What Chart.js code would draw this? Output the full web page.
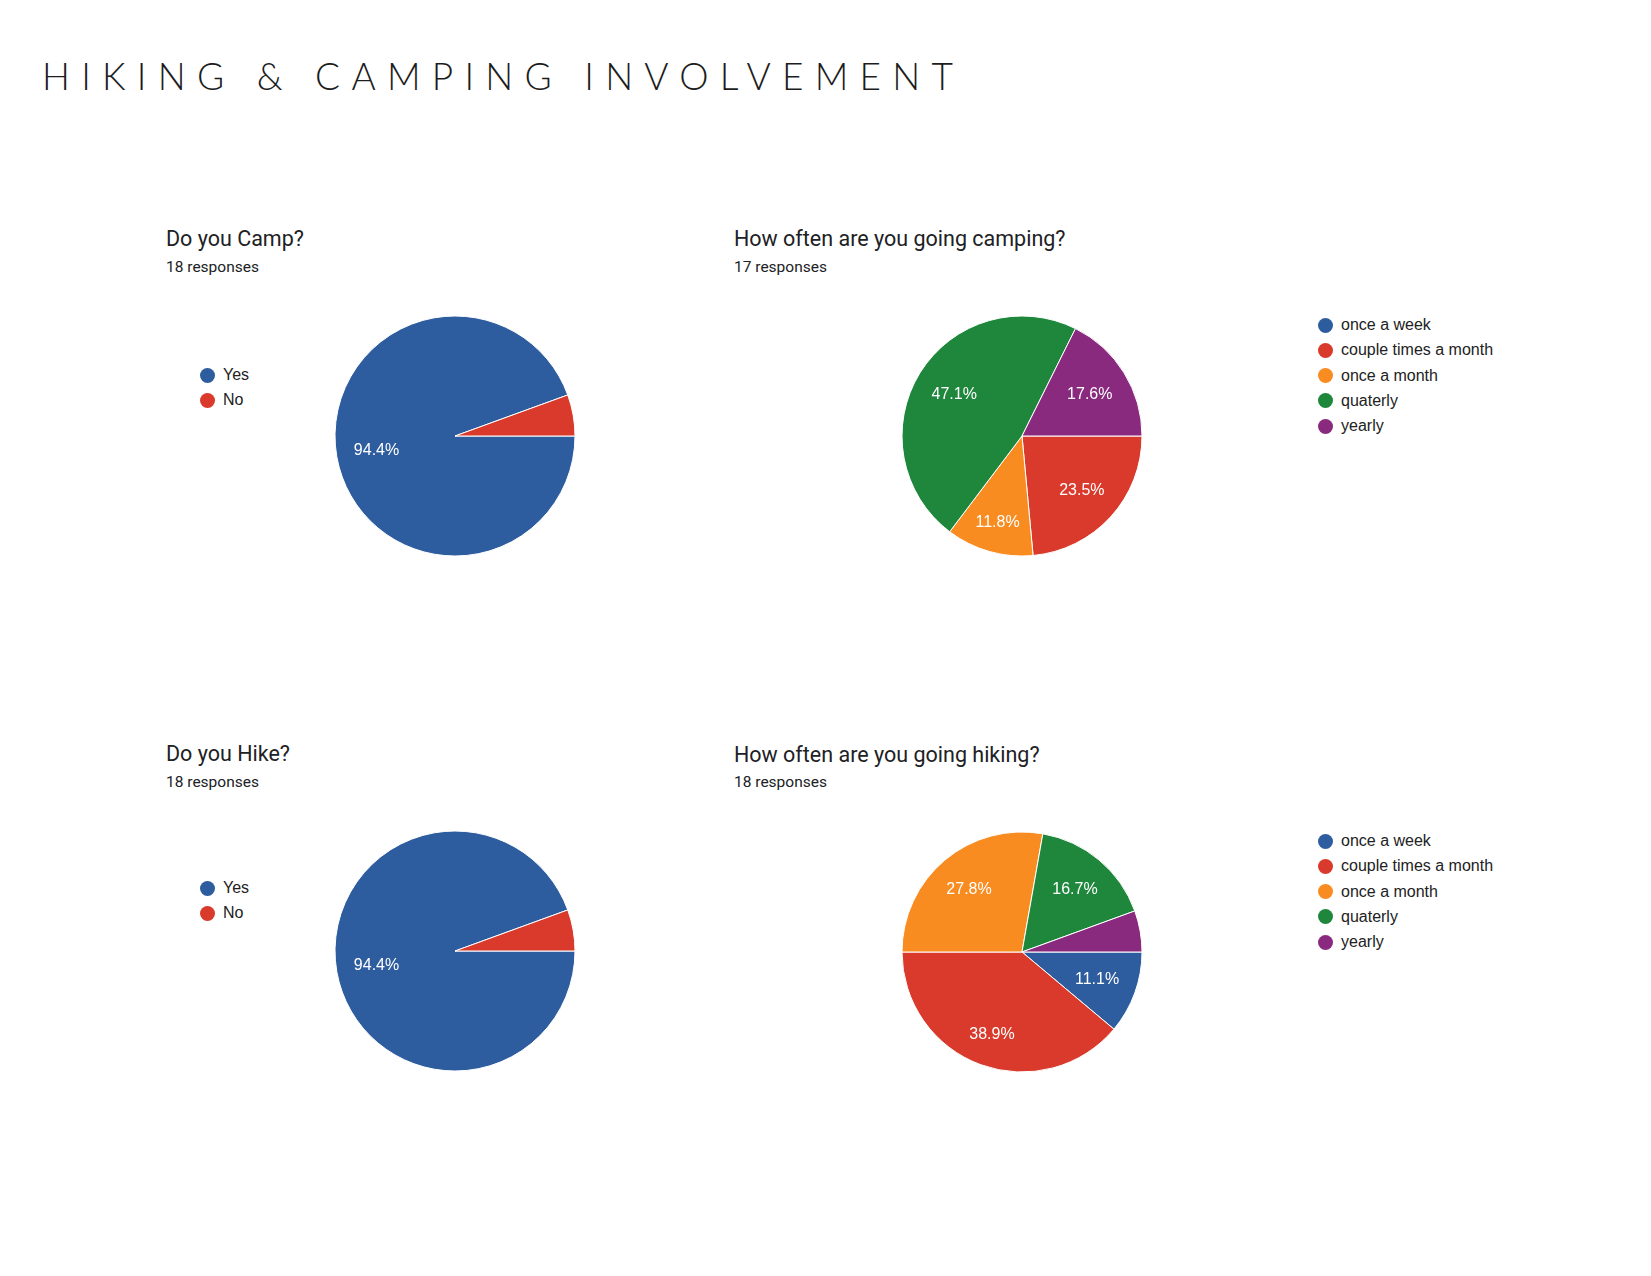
<!DOCTYPE html>
<html>
<head>
<meta charset="utf-8">
<script src="https://cdn.jsdelivr.net/npm/chart.js@4.4.0/dist/chart.umd.min.js"></script>
<style>
  html, body { margin:0; padding:0; background:#fff; }
  body { width:1651px; height:1276px; position:relative; overflow:hidden; }
  #mainTitle { position:absolute; left:42px; top:56.5px; font-family:Lato, sans-serif; font-weight:300; font-size:37px; line-height:37px; color:#1c1c1c; white-space:nowrap; }
  .qtitle { position:absolute; font-family:Roboto, sans-serif; font-size:21.5px; line-height:24px; color:#202124; white-space:nowrap; }
  .qsub { position:absolute; font-family:Roboto, sans-serif; font-size:15.5px; line-height:18px; color:#202124; white-space:nowrap; }
  .legend { position:absolute; font-family:"Liberation Sans", Arial, sans-serif; font-size:16px; color:#222; }
  .legend .item { position:relative; height:25.3px; line-height:20px; white-space:nowrap; }
  .legend .dot { position:absolute; left:0; top:0; width:15px; height:15px; border-radius:50%; margin-top:2.5px; }
  .legend .txt { position:absolute; left:23px; top:0; }
  canvas.pie { position:absolute; }
</style>
</head>
<body>
<div id="mainTitle">HIKING &amp; CAMPING INVOLVEMENT</div>

<div class="qtitle" style="left:166px; top:227px;">Do you Camp?</div>
<div class="qsub" style="left:166px; top:258px;">18 responses</div>
<div class="qtitle" style="left:734px; top:227px;">How often are you going camping?</div>
<div class="qsub" style="left:734px; top:258px;">17 responses</div>
<div class="qtitle" style="left:166px; top:742px;">Do you Hike?</div>
<div class="qsub" style="left:166px; top:773px;">18 responses</div>
<div class="qtitle" style="left:734px; top:743px;">How often are you going hiking?</div>
<div class="qsub" style="left:734px; top:773px;">18 responses</div>

<canvas class="pie" id="c1" width="260" height="260" style="left:325px; top:306px;"></canvas>
<canvas class="pie" id="c2" width="260" height="260" style="left:892px; top:306px;"></canvas>
<canvas class="pie" id="c3" width="260" height="260" style="left:325px; top:821px;"></canvas>
<canvas class="pie" id="c4" width="260" height="260" style="left:892px; top:822px;"></canvas>

<div class="legend" id="l1" style="left:200px; top:365px;"></div>
<div class="legend" id="l2" style="left:1318px; top:315px;"></div>
<div class="legend" id="l3" style="left:200px; top:878px;"></div>
<div class="legend" id="l4" style="left:1318px; top:831px;"></div>

<script>
// ---- Data ----
const yesNoCategories = ['Yes', 'No'];
const campValues = [17, 1];
const hikeValues = [17, 1];

const frequencyCategories = ['once a week', 'couple times a month', 'once a month', 'quaterly', 'yearly'];
const campFrequencyValues = [0, 4, 2, 8, 3];
const hikeFrequencyValues = [2, 7, 5, 3, 1];

const yesNoColors = ['#2e5d9f', '#d93a2b'];
const frequencyColors = ['#2e5d9f', '#d93a2b', '#f98c21', '#1e873c', '#892a7f'];

// ---- Title letter spacing to match width ----
(function () {
  const el = document.getElementById('mainTitle');
  const txt = el.textContent;
  const ctx = document.createElement('canvas').getContext('2d');
  ctx.font = '300 37px Lato';
  const w = ctx.measureText(txt).width;
  const target = 911;
  const sp = (target - w) / (txt.length - 1);
  el.style.letterSpacing = sp.toFixed(2) + 'px';
})();

// ---- Percent label plugin (label box kept inside an inner circle) ----
const percentLabels = {
  id: 'percentLabels',
  afterDatasetsDraw(chart) {
    const ctx = chart.ctx;
    const ds = chart.data.datasets[0];
    const total = ds.data.reduce((a, b) => a + b, 0);
    const meta = chart.getDatasetMeta(0);
    ctx.save();
    ctx.fillStyle = '#ffffff';
    ctx.font = '16px "Liberation Sans", Arial, sans-serif';
    ctx.textAlign = 'center';
    ctx.textBaseline = 'middle';
    meta.data.forEach((arc, i) => {
      const v = ds.data[i];
      const frac = v / total;
      if (frac < 0.08) return;
      const text = (frac * 100).toFixed(1) + '%';
      const p = arc.getProps(['x', 'y', 'startAngle', 'endAngle', 'outerRadius'], true);
      const mid = (p.startAngle + p.endAngle) / 2;
      const c = Math.cos(mid), s = Math.sin(mid);
      const w = ctx.measureText(text).width;
      const h = 17;
      const extent = (w / 2) * Math.abs(c) + (h / 2) * Math.abs(s);
      const d = p.outerRadius - 16.5 - extent;
      ctx.fillText(text, p.x + c * d, p.y + s * d + 0.5);
    });
    ctx.restore();
  }
};

function makePie(canvasId, legendId, labels, values, colors) {
  const chart = new Chart(document.getElementById(canvasId), {
    type: 'pie',
    data: {
      labels: labels,
      datasets: [{
        data: values,
        backgroundColor: colors,
        borderColor: '#ffffff',
        borderWidth: 1
      }]
    },
    options: {
      responsive: false,
      animation: false,
      rotation: 90,
      radius: 120,
      layout: { padding: 0 },
      plugins: {
        legend: { display: false },
        tooltip: { enabled: false }
      }
    },
    plugins: [percentLabels]
  });
  const leg = document.getElementById(legendId);
  chart.data.labels.forEach((lab, i) => {
    const item = document.createElement('div');
    item.className = 'item';
    const dot = document.createElement('span');
    dot.className = 'dot';
    dot.style.background = chart.data.datasets[0].backgroundColor[i];
    const t = document.createElement('span');
    t.className = 'txt';
    t.textContent = lab;
    item.appendChild(dot);
    item.appendChild(t);
    leg.appendChild(item);
  });
  return chart;
}

makePie('c1', 'l1', yesNoCategories, campValues, yesNoColors);
makePie('c2', 'l2', frequencyCategories, campFrequencyValues, frequencyColors);
makePie('c3', 'l3', yesNoCategories, hikeValues, yesNoColors);
makePie('c4', 'l4', frequencyCategories, hikeFrequencyValues, frequencyColors);
</script>
</body>
</html>
